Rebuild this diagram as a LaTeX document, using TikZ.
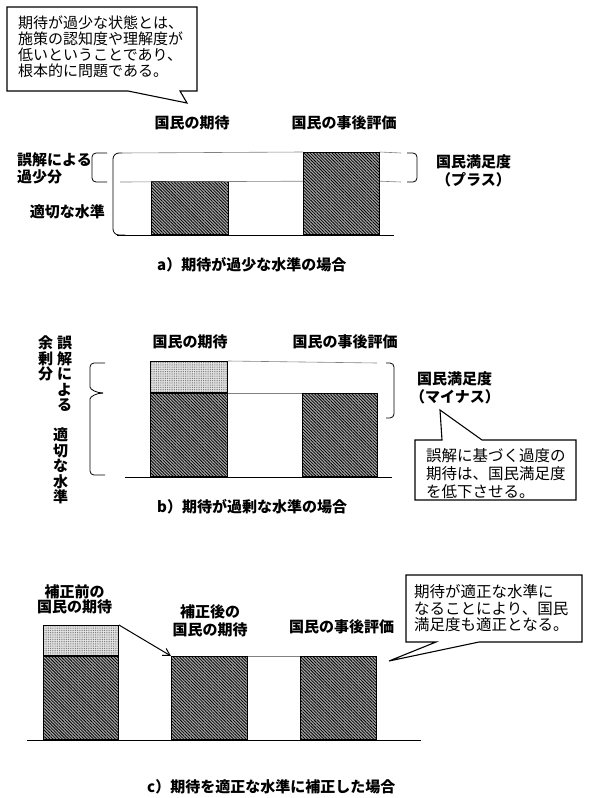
\documentclass[tikz,border=0pt]{standalone}
\usepackage{fontspec}
\setmainfont{Noto Sans CJK JP}
\usetikzlibrary{arrows.meta,patterns.meta}

\begin{document}
\begin{tikzpicture}[x=1pt,y=-1pt,
  lbl/.style={font=\bfseries\fontsize{15}{15}\selectfont,inner sep=0pt,align=center},
  tate/.style={font=\bfseries\fontsize{15}{15.6}\selectfont,inner sep=0pt,align=center},
  note/.style={font=\fontsize{15.5}{16.5}\selectfont,inner sep=0pt,align=left,anchor=west},
  darkbar/.style={draw,line width=1pt,inner sep=0pt,anchor=south west,preaction={fill=gray!70},pattern={Lines[angle=-45,distance=2.2pt,line width=0.8pt]},pattern color=black},
  lightbar/.style={draw,line width=1pt,inner sep=0pt,anchor=south west,preaction={fill=gray!20},pattern={Dots[distance=1.8pt,radius=0.5pt]},pattern color=gray!80!black},
  guide/.style={gray,line width=0.6pt},
  ground/.style={line width=1pt},
  brk/.style={line width=0.8pt,rounded corners=4pt},
  callout/.style={line width=1.1pt,line join=miter}]
\useasboundingbox (0,0) rectangle (589,798);

% callout a
\draw[callout] (7,7) -- (197,7) -- (197,91) -- (180,91) -- (187,103) -- (128,91) -- (7,91) -- cycle;
\node[note,font=\fontsize{15}{16}\selectfont] (anote) at (18,47) {期待が過少な状態とは、\\施策の認知度や理解度が\\低いということであり、\\根本的に問題である。};

% a) 過少
\node[darkbar,minimum width=77pt,minimum height=53pt] (a1) at (151,235) {};
\node[darkbar,minimum width=76pt,minimum height=82pt] (a2) at (303,235) {};
\draw[ground] (117,235) -- (394,235);
\draw[guide] (122,153) -- (a2.north west) (a2.north east) -- (401,153);
\draw[guide] (120,182) -- (a2.west |- a1.north) (a2.east |- a1.north) -- (401,182);
\draw[brk,rounded corners=6pt] (122,153) -- (113,153) -- (113,235) -- (125,235);
\draw[brk] (107,153) -- (92,153) -- (92,182) -- (107,182);
\draw[brk] (407,153) -- (417,153) -- (417,182) -- (407,182);
\node[lbl] (a1lbl) at (192,123) {国民の期待};
\node[lbl] (a2lbl) at (344,123) {国民の事後評価};
\node[lbl,anchor=west,align=left] (agosa) at (17,168.5) {誤解による\\[2pt]過少分};
\node[lbl,anchor=east] (atekisetsu) at (105,212) {適切な水準};
\node[lbl,anchor=west,align=left] (amanzoku) at (436,171) {国民満足度\\[3pt]（プラス）};
\node[lbl,anchor=west] (acap) at (157,265) {a）期待が過少な水準の場合};

% b) 過剰
\node[darkbar,minimum width=77pt,minimum height=83pt] (b1) at (150,477) {};
\node[lightbar,minimum width=77pt,minimum height=31pt] (b1x) at (b1.north west) {};
\node[darkbar,minimum width=75pt,minimum height=83pt] (b2) at (302,477) {};
\draw[ground] (125,477) -- (392,477);
\draw[guide] (b1x.north east) -- (377,363);
\draw[guide] (b1.north east) -- (b2.north west);
\draw[brk] (105,363) -- (90,363) -- (90,383) to[out=-90,in=180] (103,393);
\draw[brk] (103,393) to[out=180,in=90] (90,403) -- (90,475) -- (105,475);
\draw[brk] (386,363) -- (394,363) -- (394,418) -- (386,418);
\node[tate] (bgokai) at (64.5,374) {誤\\解\\に\\よ\\る};
\node[tate] (byojou) at (45.5,358.5) {余\\剰\\分};
\node[tate] (btekisetsu) at (60.5,466) {適\\切\\な\\水\\準};
\node[lbl] (b1lbl) at (190,342) {国民の期待};
\node[lbl] (b2lbl) at (345,342) {国民の事後評価};
\node[lbl,anchor=west,align=left] (bmanzoku) at (417,388) {国民満足度\\[3pt]\hspace*{-7pt}（マイナス）};
\coordinate (btip) at (440,410);
\draw[callout] (415,440) -- (442,440) -- (btip) -- (482,440) -- (576,440) -- (576,500) -- (415,500) -- cycle;
\node[note,font=\fontsize{15.5}{18.4}\selectfont] (bnote) at (426,473.5) {誤解に基づく過度の\\期待は、国民満足度\\を低下させる。};
\node[lbl,anchor=west] (bcap) at (157,507) {b）期待が過剰な水準の場合};

% c) 補正
\node[darkbar,minimum width=75pt,minimum height=83pt] (c1) at (43,740) {};
\node[lightbar,minimum width=75pt,minimum height=30pt] (c1x) at (c1.north west) {};
\node[darkbar,minimum width=76pt,minimum height=83pt] (c2) at (171,740) {};
\node[darkbar,minimum width=76pt,minimum height=83pt] (c3) at (300,740) {};
\draw[ground] (27,740) -- (421,740);
\draw[guide] (c2.north east) -- (c3.north west);
\draw[-{Straight Barb[length=7pt,width=8pt]},line width=1pt] (c1x.north east) -- (c2.north west);
\node[lbl] (c1lbl) at (74.5,599.5) {補正前の\\国民の期待};
\node[lbl] (c2lbl) at (210,621) {補正後の\\[3pt]国民の期待};
\node[lbl] (c3lbl) at (341.5,627) {国民の事後評価};
\coordinate (ctip) at (389,661);
\draw[callout] (406,575) -- (582,575) -- (582,642) -- (479,642) -- (ctip) -- (436,642) -- (406,642) -- cycle;
\node[note] (cnote) at (414,608.5) {期待が適正な水準に\\なることにより、国民\\満足度も適正となる。};
\node[lbl,anchor=west] (ccap) at (147,787) {c）期待を適正な水準に補正した場合};
\end{tikzpicture}
\end{document}
